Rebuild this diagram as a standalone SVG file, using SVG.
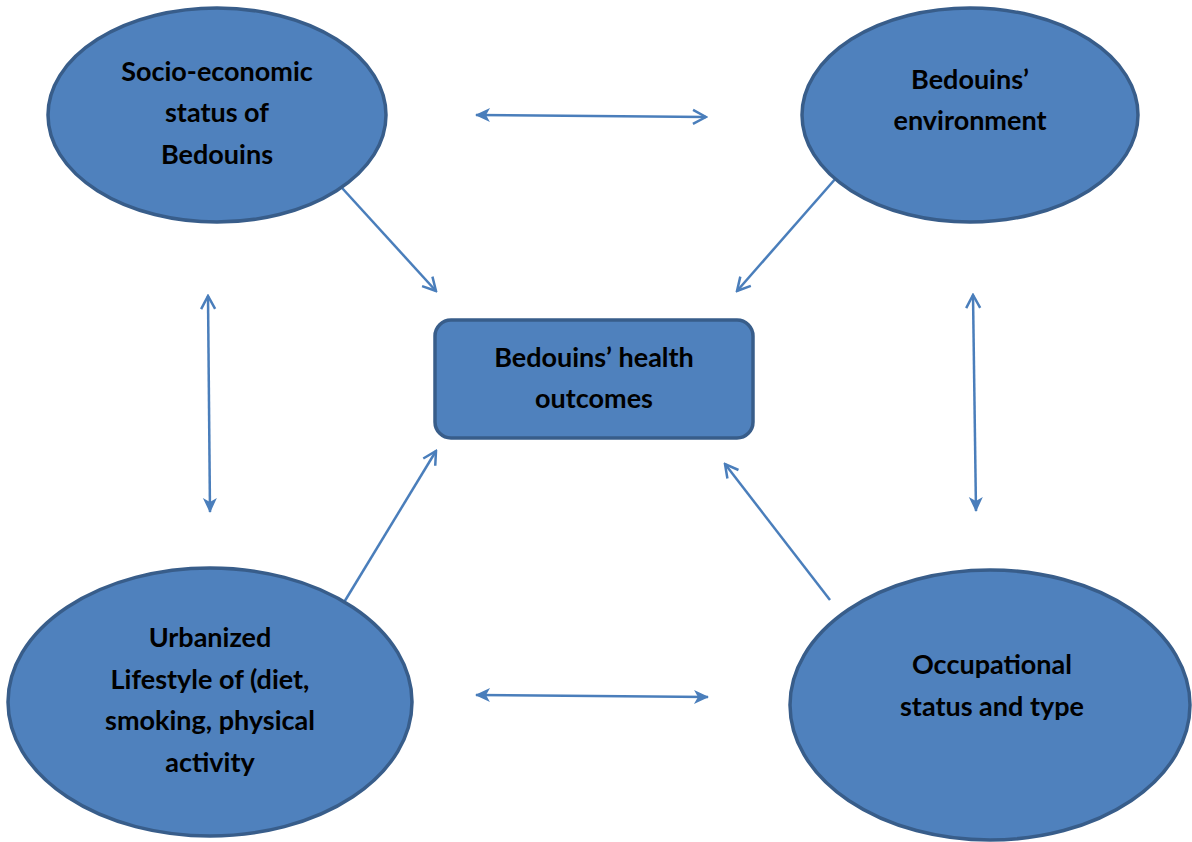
<svg xmlns="http://www.w3.org/2000/svg" width="1192" height="842" viewBox="0 0 1192 842">
<style>
.node{fill:#4F81BD;stroke:#385D8A;stroke-width:3.5}
.lbl{font-family:Lato,"Liberation Sans",sans-serif;font-weight:bold;font-size:27px;fill:#000;text-anchor:middle}
.con{stroke:#4A7EBB;stroke-width:2.5;fill:none}
</style>
<defs>
<marker id="open" viewBox="-16 -9 18 18" refX="0" refY="0" markerWidth="18" markerHeight="18" markerUnits="userSpaceOnUse" orient="auto-start-reverse">
<path d="M-13,-7 L0,0 L-13,7" fill="none" stroke="#4A7EBB" stroke-width="2.5"/>
</marker>
<marker id="fill" viewBox="-16 -9 18 18" refX="0" refY="0" markerWidth="18" markerHeight="18" markerUnits="userSpaceOnUse" orient="auto-start-reverse">
<path d="M1,0 L-14,-7 L-10,0 L-14,7 Z" fill="#4A7EBB"/>
</marker>
</defs>
<rect width="1192" height="842" fill="#fff"/>
<g id="connectors">
<line class="con" x1="476" y1="115" x2="706" y2="117" marker-start="url(#fill)" marker-end="url(#open)"/>
<line class="con" x1="322" y1="166" x2="436" y2="291" marker-end="url(#open)"/>
<line class="con" x1="858" y1="153" x2="737" y2="291" marker-end="url(#open)"/>
<line class="con" x1="208" y1="296" x2="210" y2="512" marker-start="url(#open)" marker-end="url(#fill)"/>
<line class="con" x1="973" y1="295" x2="976" y2="511" marker-start="url(#open)" marker-end="url(#fill)"/>
<line class="con" x1="343" y1="604" x2="436" y2="451" marker-end="url(#open)"/>
<line class="con" x1="830" y1="600" x2="725" y2="464" marker-end="url(#open)"/>
<line class="con" x1="476" y1="695" x2="708" y2="697" marker-start="url(#fill)" marker-end="url(#fill)"/>
</g>
<g id="socio">
<ellipse class="node" cx="217" cy="115" rx="169" ry="107"/>
<text class="lbl" x="217" y="81">Socio-economic</text>
<text class="lbl" x="217" y="122">status of</text>
<text class="lbl" x="217" y="164">Bedouins</text>
</g>
<g id="environment">
<ellipse class="node" cx="970" cy="115" rx="168" ry="107"/>
<text class="lbl" x="970" y="89">Bedouins’</text>
<text class="lbl" x="970" y="130">environment</text>
</g>
<g id="health">
<rect class="node" x="435" y="320" width="318" height="118" rx="16"/>
<text class="lbl" x="594" y="367">Bedouins’ health</text>
<text class="lbl" x="594" y="408">outcomes</text>
</g>
<g id="lifestyle">
<ellipse class="node" cx="210" cy="702" rx="202" ry="134"/>
<text class="lbl" x="210" y="647">Urbanized</text>
<text class="lbl" x="210" y="689">Lifestyle of (diet,</text>
<text class="lbl" x="210" y="730">smoking, physical</text>
<text class="lbl" x="210" y="772">activity</text>
</g>
<g id="occupation">
<ellipse class="node" cx="990" cy="705" rx="200" ry="135"/>
<text class="lbl" x="992" y="674">Occupational</text>
<text class="lbl" x="992" y="716">status and type</text>
</g>
</svg>
